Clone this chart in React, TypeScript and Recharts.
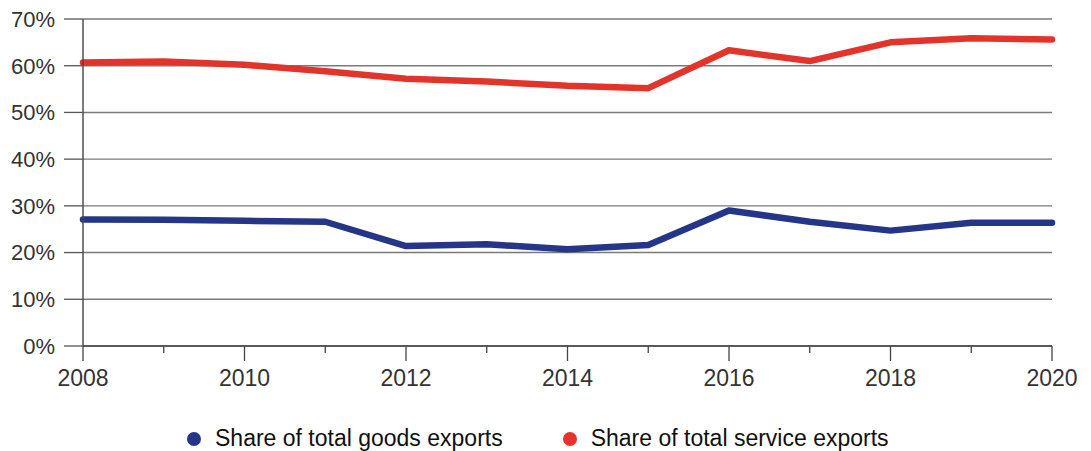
import React from "react";
import { LineChart, Line, XAxis, YAxis, CartesianGrid } from "recharts";

const years = [2008, 2009, 2010, 2011, 2012, 2013, 2014, 2015, 2016, 2017, 2018, 2019, 2020];
const goodsShare = [27.1, 27.0, 26.8, 26.6, 21.4, 21.8, 20.7, 21.6, 29.0, 26.6, 24.7, 26.4, 26.4];
const serviceShare = [60.7, 60.9, 60.2, 58.8, 57.2, 56.6, 55.7, 55.2, 63.3, 61.0, 65.0, 65.9, 65.6];
const yTicks = [0, 10, 20, 30, 40, 50, 60, 70];
const seriesNames = ["Share of total goods exports", "Share of total service exports"];
const seriesColors = ["#253688", "#E3342C"];

const data = years.map((y, i) => ({ year: y, goods: goodsShare[i], services: serviceShare[i] }));

const FONT = "'Liberation Sans', Arial, Helvetica, sans-serif";

const XTick = (props: any) => {
  const { x, y, payload } = props;
  const v = payload.value as number;
  const major = v % 2 === 0;
  return (
    <g>
      <line x1={x} x2={x} y1={y} y2={y + (major ? 15 : 7)} stroke="#444" strokeWidth={1.3} />
      {major && (
        <text x={x} y={y + 40} textAnchor="middle" fill="#333" fontSize={23} fontFamily={FONT}>
          {v}
        </text>
      )}
    </g>
  );
};

export default function App() {
  return (
    <div style={{ position: "relative", width: 1083, height: 443, fontFamily: FONT }}>
      <LineChart
        width={1083}
        height={400}
        data={data}
        margin={{ top: 11, right: 39, bottom: 22, left: 0 }}
      >
        <CartesianGrid vertical={false} stroke="#7a7a7a" strokeWidth={1.4} />
        <XAxis
          dataKey="year"
          type="number"
          domain={[2008, 2020]}
          ticks={years}
          interval={0}
          height={40}
          tickLine={false}
          tickSize={0}
          tickMargin={0}
          axisLine={{ stroke: "#444", strokeWidth: 1.4 }}
          tick={<XTick />}
        />
        <YAxis
          type="number"
          domain={[0, 70]}
          ticks={yTicks}
          interval={0}
          width={75}
          tickSize={19}
          tickMargin={9}
          tickLine={{ stroke: "#555", strokeWidth: 1.3 }}
          axisLine={{ stroke: "#444", strokeWidth: 1.4 }}
          tickFormatter={(v: number) => `${v}%`}
          tick={{ fill: "#333", fontSize: 22, fontFamily: FONT }}
        />
        <Line
          type="linear"
          dataKey="goods"
          name={seriesNames[0]}
          stroke={seriesColors[0]}
          strokeWidth={6.5}
          strokeLinecap="round"
          strokeLinejoin="round"
          dot={false}
          activeDot={false}
          isAnimationActive={false}
        />
        <Line
          type="linear"
          dataKey="services"
          name={seriesNames[1]}
          stroke={seriesColors[1]}
          strokeWidth={6.5}
          strokeLinecap="round"
          strokeLinejoin="round"
          dot={false}
          activeDot={false}
          isAnimationActive={false}
        />
      </LineChart>
      <div
        style={{
          position: "absolute",
          left: 179,
          top: 419,
          display: "flex",
          alignItems: "center",
          fontSize: 23,
          lineHeight: "23px",
          color: "#111",
          whiteSpace: "nowrap",
        }}
      >
        {seriesNames.map((n, i) => (
          <div key={n} style={{ display: "flex", alignItems: "center", marginRight: i === 0 ? 60 : 0 }}>
            <svg width={14} height={14} style={{ marginRight: 14 }}>
              <circle cx={7} cy={7} r={7} fill={seriesColors[i]} />
            </svg>
            <span>{n}</span>
          </div>
        ))}
      </div>
    </div>
  );
}
